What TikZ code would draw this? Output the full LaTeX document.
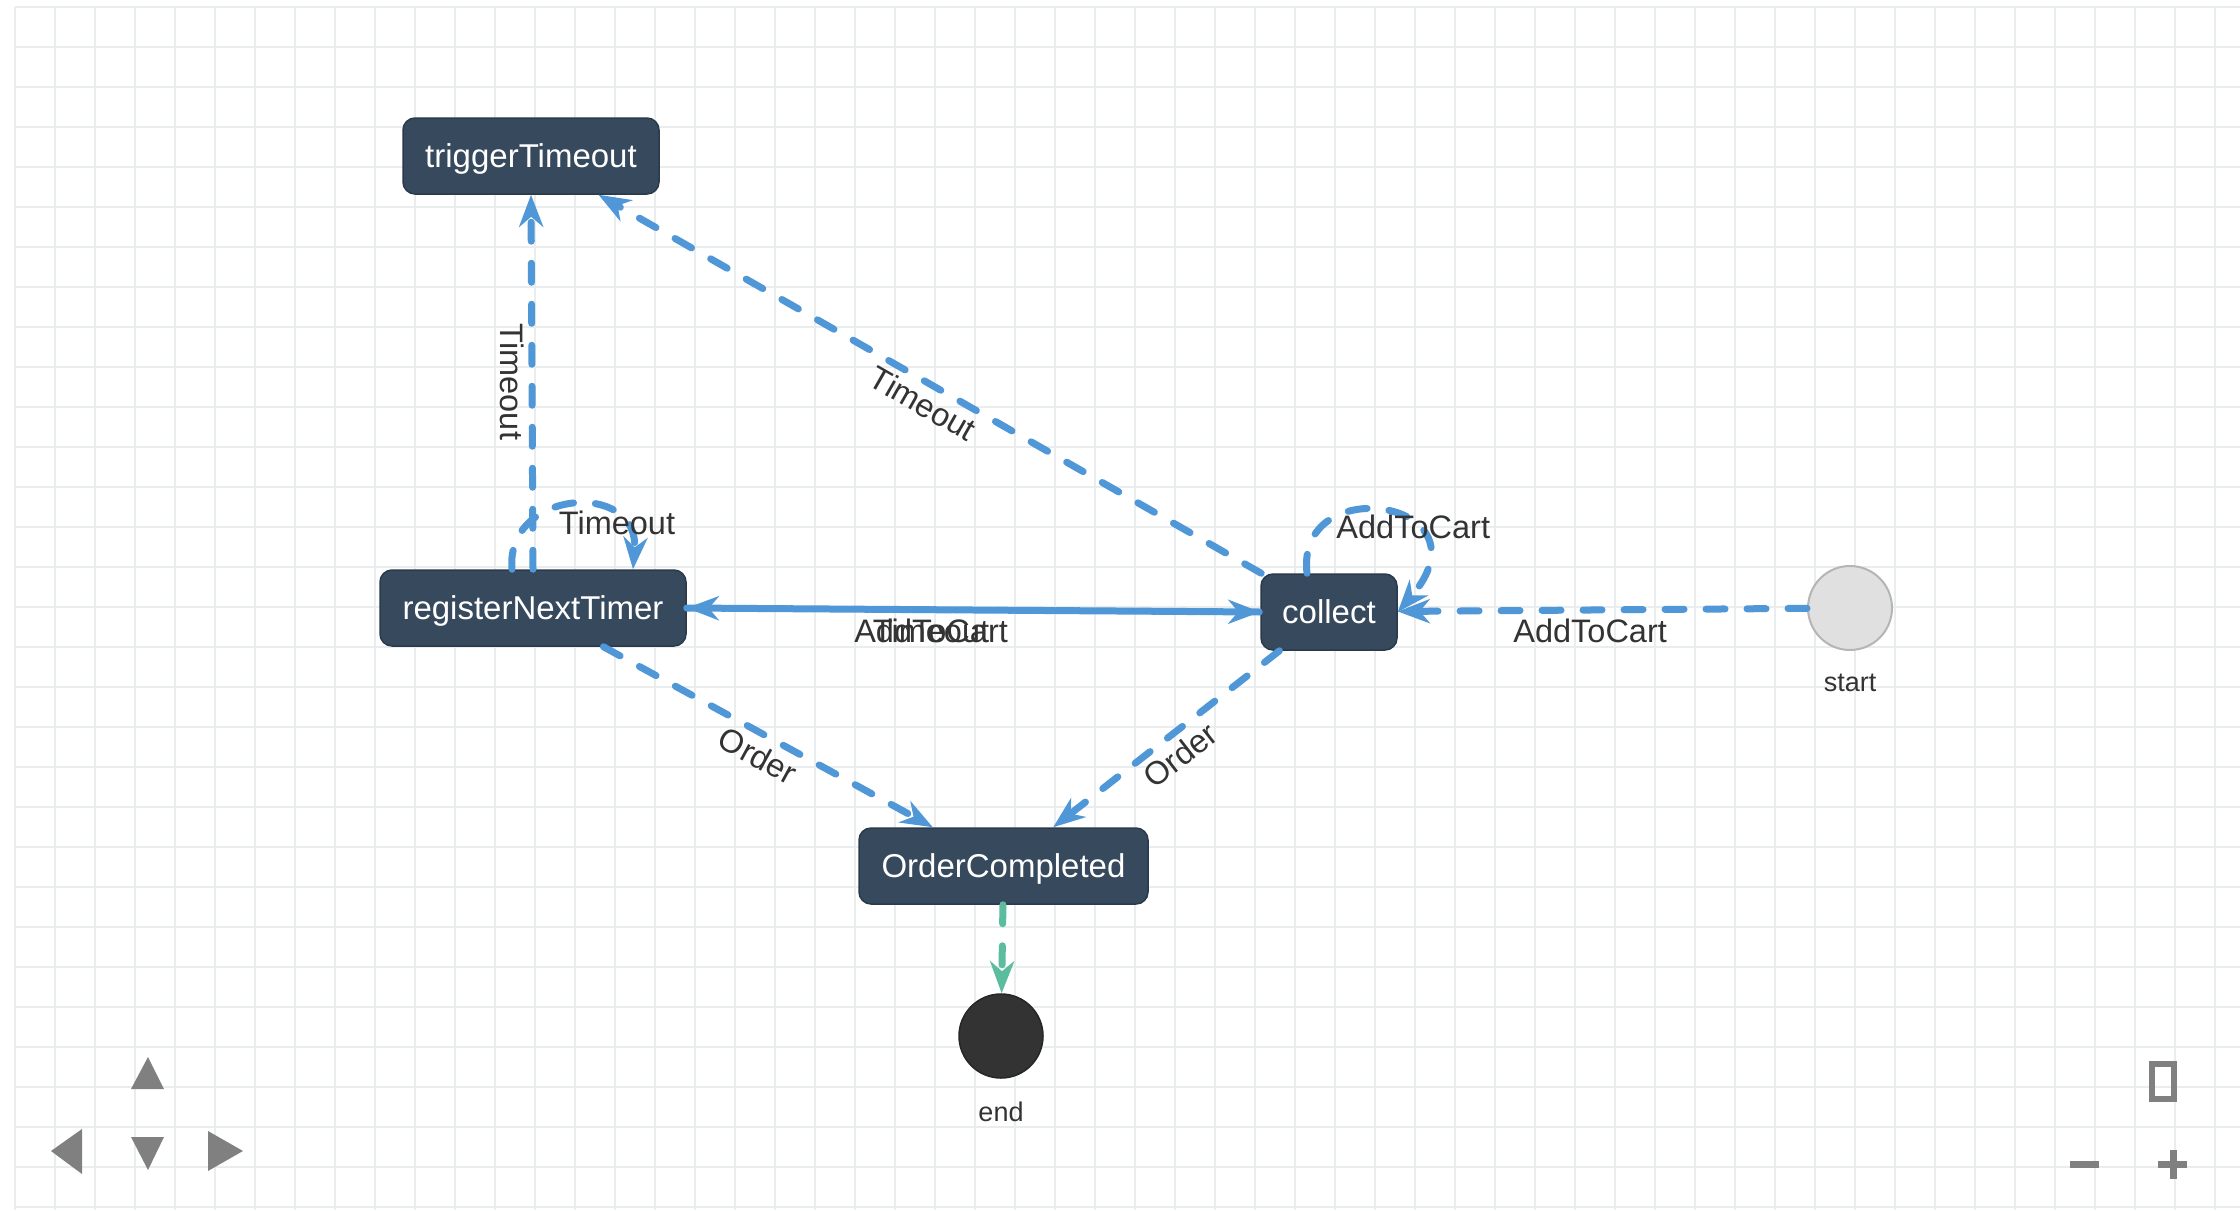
\documentclass[tikz,border=0pt]{standalone}
\usepackage{fontspec}
\setmainfont{Liberation Sans}
\usetikzlibrary{arrows.meta}
\definecolor{gridc}{HTML}{E9EDED}
\definecolor{nodefill}{HTML}{37495D}
\definecolor{nodeborder}{HTML}{2A3A4B}
\definecolor{edgeblue}{HTML}{4F97D7}
\definecolor{edgegreen}{HTML}{5BBD9E}
\definecolor{labelc}{HTML}{333333}
\definecolor{ctrl}{HTML}{808080}
\definecolor{startfill}{HTML}{E0E0E0}
\definecolor{startborder}{HTML}{B5B5B5}
\definecolor{endfill}{HTML}{333333}
\begin{document}
\begin{tikzpicture}[x=1pt,y=-1pt,
  state/.style={draw=nodeborder, line width=1.5pt, fill=nodefill, rounded corners=12pt,
    text=white, font=\fontsize{33}{40}\selectfont, minimum height=76pt, inner sep=0pt,
    text height=28pt, text depth=6pt},
  flow/.style={draw=edgeblue, line width=7pt, dash pattern=on 19pt off 22pt, line cap=round,
    -{Stealth[length=32pt,width=24pt,inset=10pt]}},
  greenflow/.style={flow, draw=edgegreen},
  lbl/.style={text=labelc, font=\fontsize{32.5}{39}\selectfont, text height=23.4pt, text depth=0pt},
  lblsmall/.style={text=labelc, font=\fontsize{27}{32}\selectfont, inner sep=0pt},
  gridline/.style={draw=gridc, line width=2pt},
  ctrlshape/.style={fill=ctrl},
  ctrlline/.style={draw=ctrl, line width=7pt},
]
\useasboundingbox (0,0) rectangle (2240,1210);
\fill[white] (0,0) rectangle (2240,1210);
\foreach \i in {0,...,55} \draw[gridline] (15+40*\i,7) -- (15+40*\i,1210);
\foreach \j in {0,...,30} \draw[gridline] (15,7+40*\j) -- (2240,7+40*\j);

% states
\node[state, minimum width=256pt] (tT) at (531,156) {triggerTimeout};
\node[state, minimum width=306pt] (rNT) at (533,608) {registerNextTimer};
\node[state, minimum width=136pt] (col) at (1329,612) {collect};
\node[state, minimum width=289pt] (oc) at (1003.5,866) {OrderCompleted};
\node[circle, draw=startborder, line width=2pt, fill=startfill, minimum size=84pt, inner sep=0pt,
  label={[lblsmall, label distance=23pt]below:start}] (start) at (1850,608) {};
\node[circle, draw=black!85, line width=1.5pt, fill=endfill, minimum size=84pt, inner sep=0pt,
  label={[lblsmall, label distance=23pt]below:end}] (end) at (1001,1036) {};

% transitions
\draw[flow] (rNT.north) -- node[lbl, pos=0.5, rotate=-90, anchor=north, inner sep=5pt] {Timeout} (tT.south);
\draw[flow] ([xshift=-21pt]rNT.north) .. controls +(-7,-80) and +(7,-90) ..
  node[lbl, pos=0.5, xshift=44.5pt, yshift=-17pt] {Timeout} ([xshift=100pt]rNT.north);
\draw[flow] (col) -- node[lbl, pos=0.495, sloped, anchor=north, inner sep=5pt] {Timeout} (tT);
\draw[flow] (rNT) -- node[lbl, pos=0.50, sloped, anchor=north, inner sep=6pt] {Order} (oc);
\draw[flow] (col) -- node[lbl, pos=0.496, sloped, anchor=north, inner sep=6pt] {Order} (oc);
\draw[flow] (rNT.east) -- node[lbl, pos=0.426, anchor=north, inner sep=6pt] {Timeout} (col.west);
\draw[flow, dash phase=40pt] (col.west) -- node[lbl, pos=0.574, anchor=north, inner sep=6pt] {AddToCart} (rNT.east);
\draw[flow] (start) -- node[lbl, pos=0.53, anchor=north, inner sep=6pt] {AddToCart} (col);
\draw[flow] ([xshift=-22pt]col.north) .. controls +(-12,-104) and +(97,-112) ..
  node[lbl, pos=0.5, xshift=29pt, yshift=-15pt] {AddToCart} (col.east);
\draw[greenflow] (oc) -- (end);

% navigation controls
\fill[ctrlshape] (131,1089) -- (164,1089) -- (148,1057) -- cycle;
\fill[ctrlshape] (131,1137) -- (164,1137) -- (148,1170) -- cycle;
\fill[ctrlshape] (51,1151) -- (82,1129) -- (82,1174) -- cycle;
\fill[ctrlshape] (208,1131) -- (208,1171) -- (243,1151) -- cycle;
\draw[draw=ctrl, line width=6pt] (2152,1064) rectangle (2174,1099);
\draw[ctrlline] (2070,1164) -- (2099,1164);
\draw[ctrlline] (2158,1164) -- (2187,1164);
\draw[ctrlline] (2173,1150) -- (2173,1179);
\end{tikzpicture}
\end{document}
